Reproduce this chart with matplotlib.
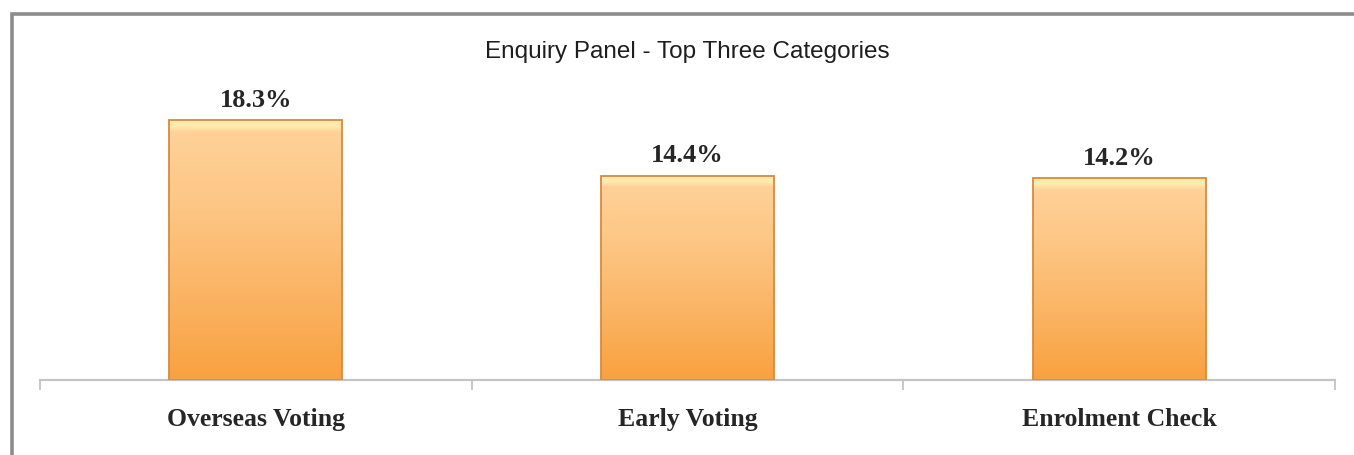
import numpy as np
import matplotlib
matplotlib.use("Agg")
import matplotlib.pyplot as plt
from matplotlib.patches import Rectangle
from matplotlib.colors import LinearSegmentedColormap

categories = ["Overseas Voting", "Early Voting", "Enrolment Check"]
shares = [18.3, 14.4, 14.2]
value_labels = ["18.3%", "14.4%", "14.2%"]
title = "Enquiry Panel - Top Three Categories"

W, H = 1354, 455
fig = plt.figure(figsize=(W / 100, H / 100), dpi=100)
fig.patch.set_facecolor("white")

# gray frame, only top and left edges show
fig.patches.append(Rectangle((12 / W, -0.2), 1.2, 1.2 - 13.5 / H, transform=fig.transFigure,
                             fill=False, edgecolor="#8c8c8c", lw=2.6, zorder=0))

ax = fig.add_axes([40 / W, 75 / H, 1295 / W, 284 / H])
ax.set_xlim(-0.5, 2.5)
ax.set_ylim(0, 20)
for s in ["top", "right", "left"]:
    ax.spines[s].set_visible(False)
ax.spines["bottom"].set_color("#c4c4c4")
ax.spines["bottom"].set_linewidth(1.6)
ax.set_yticks([])

ax.set_xticks(range(len(categories)))
ax.set_xticklabels(categories, family="Liberation Serif", fontweight="bold",
                   fontsize=18.5, color="#262626")
ax.tick_params(axis="x", which="major", length=0, pad=20)
ax.set_xticks([-0.5, 0.5, 1.5, 2.5], minor=True)
ax.tick_params(axis="x", which="minor", length=7, width=1.2, color="#bdbdbd", direction="out")

body = LinearSegmentedColormap.from_list("body", ["#f9a13f", "#fbb464", "#fdc684", "#ffd39c"])
rim = np.array([1.0, 0.92, 0.68])
bar_w = 0.4
px_per_unit = 284 / 20
for i, v in enumerate(shares):
    n = 600
    t = np.linspace(0, 1, n)  # 0 bottom, 1 top
    rgb = body(t)[:, :3]
    band = 6 / px_per_unit / v
    # pale rim along the top that fades into the body
    w = np.clip((t - (1 - 2 * band)) / band, 0, 1)[:, None]
    rgb = rgb * (1 - w) + rim * w
    img = np.repeat(rgb[::-1][:, None, :], 3, axis=1)
    ax.imshow(img, extent=(i - bar_w / 2, i + bar_w / 2, 0, v), aspect="auto",
              interpolation="bilinear", zorder=2)
    ax.add_patch(Rectangle((i - bar_w / 2, 0), bar_w, v, fill=False,
                           edgecolor="#d98a3c", lw=1.3, zorder=3))
    ax.text(i, v + 20 / px_per_unit, value_labels[i], ha="center", va="center",
            family="Liberation Serif", fontweight="bold", fontsize=19, color="#262626")

ax.set_xlim(-0.5, 2.5)
ax.set_ylim(0, 20)

fig.text(687 / W, 1 - 52 / H, title, ha="center", va="center",
         family="Liberation Sans", fontsize=17.5, color="#1e1e1e")

fig.savefig("out.png", dpi=100)
